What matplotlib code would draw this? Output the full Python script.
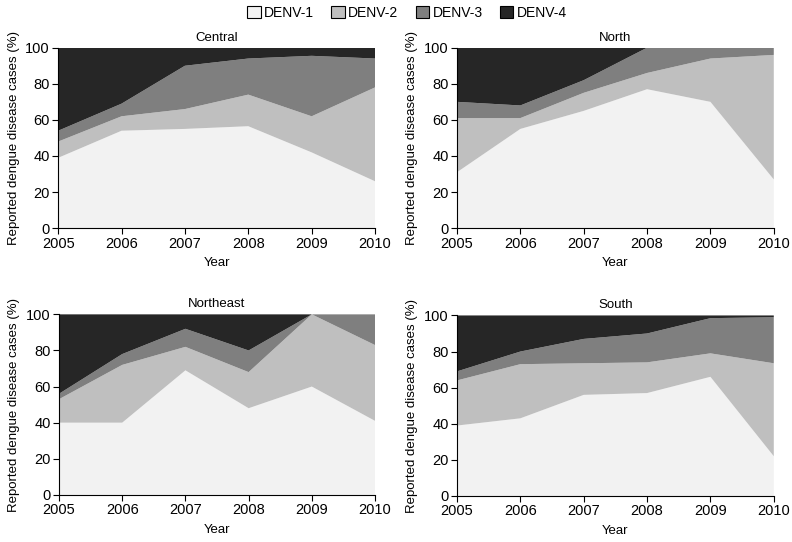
import numpy as np
import matplotlib.pyplot as plt
from matplotlib.patches import Patch

# -------------------------------
# Data (percent of reported cases by serotype)
# -------------------------------
years = [2005, 2006, 2007, 2008, 2009, 2010]
serotypes = ["DENV-1", "DENV-2", "DENV-3", "DENV-4"]
colors = ["#f2f2f2", "#bfbfbf", "#7f7f7f", "#262626"]

central_d1 = [39, 54, 55, 56.5, 42, 26]
central_d2 = [9, 8, 11, 17.5, 20, 52]
central_d3 = [6, 7, 24, 20, 33.5, 16]
central_d4 = [46, 31, 10, 6, 4.5, 6]

north_d1 = [31, 55, 65, 77, 70, 27]
north_d2 = [30, 6, 10, 9, 24, 69]
north_d3 = [9, 7, 7, 14, 6, 4]
north_d4 = [30, 32, 18, 0, 0, 0]

northeast_d1 = [40, 40, 69, 48, 60, 41]
northeast_d2 = [13, 32, 13, 20, 40, 42]
northeast_d3 = [3, 6, 10, 12, 0, 17]
northeast_d4 = [44, 22, 8, 20, 0, 0]

south_d1 = [39, 43, 56, 57, 66, 22]
south_d2 = [25, 30, 17.5, 17, 13, 51.5]
south_d3 = [5, 7, 13.5, 16, 19.5, 25.5]
south_d4 = [31, 20, 13, 10, 1.5, 1]

regions = [
    ("Central", [central_d1, central_d2, central_d3, central_d4]),
    ("North", [north_d1, north_d2, north_d3, north_d4]),
    ("Northeast", [northeast_d1, northeast_d2, northeast_d3, northeast_d4]),
    ("South", [south_d1, south_d2, south_d3, south_d4]),
]

# -------------------------------
# Figure
# -------------------------------
plt.rcParams['font.family'] = ['Liberation Sans', 'DejaVu Sans']
plt.rcParams['font.size'] = 10

fig = plt.figure(figsize=(7.92, 5.42), dpi=100)

# axes boxes in figure fractions: left, bottom, width, height
boxes = [
    [0.0735, 0.579, 0.400, 0.333],
    [0.577, 0.579, 0.400, 0.333],
    [0.0745, 0.087, 0.399, 0.333],
    [0.577, 0.085, 0.400, 0.333],
]

for (name, series), box in zip(regions, boxes):
    ax = fig.add_axes(box)
    ax.stackplot(years, *series, colors=colors, linewidth=0)
    ax.set_xlim(2005, 2010)
    ax.set_ylim(0, 100)
    ax.set_xticks(years)
    ax.set_yticks(np.arange(0, 101, 20))
    ax.spines['top'].set_visible(False)
    ax.spines['right'].set_visible(False)
    ax.tick_params(direction='out', length=4, labelsize=10.5, pad=2)
    ax.set_title(name, fontsize=9.5, pad=5)
    ax.set_xlabel("Year", fontsize=9.5, labelpad=5)
    ax.set_ylabel("Reported dengue disease cases (%)", fontsize=9.5, labelpad=4)

handles = [Patch(facecolor=c, edgecolor='black', linewidth=0.8) for c in colors]
fig.legend(handles, serotypes, loc='upper center', bbox_to_anchor=(0.514, 1.012),
           ncol=4, frameon=False, fontsize=10, handlelength=0.95, handleheight=0.95,
           columnspacing=1.25, handletextpad=0.25)

plt.savefig("out.png", dpi=100)
